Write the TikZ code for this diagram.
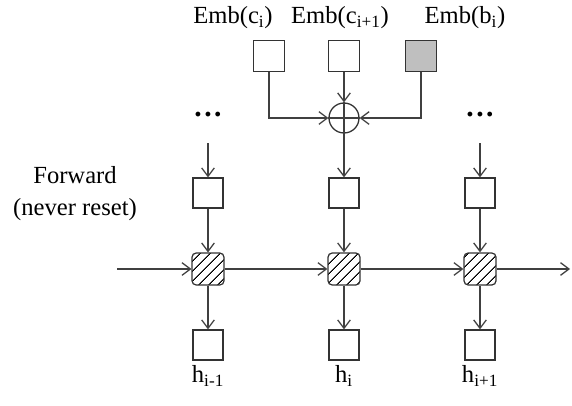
\documentclass[tikz,border=0pt]{standalone}
\usepackage{fontspec}
\setmainfont{Liberation Serif}
\usepackage{tikz}
\usetikzlibrary{positioning,arrows.meta,patterns.meta}

\begin{document}
\begin{tikzpicture}[
    font=\fontsize{17.5}{22.7}\selectfont,
    linie/.style={draw=black!75, line width=0.9pt},
    pfeil/.style={linie, -{Straight Barb[length=6pt,width=9pt,line width=0.9pt]}},
    kasten/.style={draw=black!80, line width=0.9pt, minimum size=0.75cm, inner sep=0pt},
    zelle/.style={kasten, minimum size=0.8cm, rounded corners=3pt, pattern={Lines[angle=45,distance=5.4pt,line width=0.8pt]}},
    punkte/.style={anchor=base, font=\fontsize{21}{24}\selectfont\bfseries},
  ]

    \useasboundingbox (0,0) rectangle (14.3,10.125);

    % Beschriftungen oben
    \node (lblC1) at (5.825,9.525) [anchor=base] {Emb(c\textsubscript{i})};
    \node (lblC2) at (8.5,9.525) [anchor=base] {Emb(c\textsubscript{i+1})};
    \node (lblB) at (11.625,9.525) [anchor=base] {Emb(b\textsubscript{i})};

    % Embeddings
    \node (embC1) at (6.725,8.725) [kasten, minimum size=0.78cm] {};
    \node (embC2) at (8.6,8.725) [kasten, minimum size=0.78cm] {};
    \node (embB) at (10.525,8.725) [kasten, minimum size=0.78cm, fill=black!25] {};

    % Summe
    \node (summe) at (8.6,7.175) [circle, draw=black!80, line width=0.9pt, minimum size=0.75cm, inner sep=0pt] {};
    \draw[linie] (summe.north) -- (summe.south) (summe.west) -- (summe.east);

    \draw[pfeil] (embC1) |- (summe);
    \draw[pfeil] (embC2) -- (summe);
    \draw[pfeil] (embB) |- (summe);

    % Punkte
    \node (punkteL) at (5.2,7.22) [punkte] {.\kern1.8pt.\kern1.8pt.};
    \node (punkteR) at (12.0,7.22) [punkte] {.\kern1.8pt.\kern1.8pt.};
    \coordinate (startL) at (5.2,6.55);
    \coordinate (startR) at (12.0,6.55);

    % Eingaben
    \node (einL) at (5.2,5.3) [kasten] {};
    \node (einM) at (8.6,5.3) [kasten] {};
    \node (einR) at (12.0,5.3) [kasten] {};

    % Zellen
    \node (zelleL) at (5.2,3.4) [zelle] {};
    \node (zelleM) at (8.6,3.4) [zelle] {};
    \node (zelleR) at (12.0,3.4) [zelle] {};

    % Ausgaben
    \node (ausL) at (5.2,1.5) [kasten] {};
    \node (ausM) at (8.6,1.5) [kasten] {};
    \node (ausR) at (12.0,1.5) [kasten] {};
    \node (hL) [below=0pt of ausL] {h\textsubscript{i-1}};
    \node (hM) [below=0pt of ausM] {h\textsubscript{i}};
    \node (hR) [below=0pt of ausR] {h\textsubscript{i+1}};

    % Richtung
    \node (vorwaerts) at (1.875,5.275) [align=center] {Forward\\(never reset)};

    % Verbindungen
    \draw[pfeil] (startL) -- (einL);
    \draw[pfeil] (summe) -- (einM);
    \draw[pfeil] (startR) -- (einR);
    \draw[pfeil] (einL) -- (zelleL);
    \draw[pfeil] (einM) -- (zelleM);
    \draw[pfeil] (einR) -- (zelleR);
    \draw[pfeil] (zelleL) -- (ausL);
    \draw[pfeil] (zelleM) -- (ausM);
    \draw[pfeil] (zelleR) -- (ausR);

    \coordinate (links) at (2.925,3.4);
    \coordinate (rechts) at (14.25,3.4);
    \draw[pfeil] (links) -- (zelleL);
    \draw[pfeil] (zelleL) -- (zelleM);
    \draw[pfeil] (zelleM) -- (zelleR);
    \draw[pfeil] (zelleR) -- (rechts);
\end{tikzpicture}
\end{document}
